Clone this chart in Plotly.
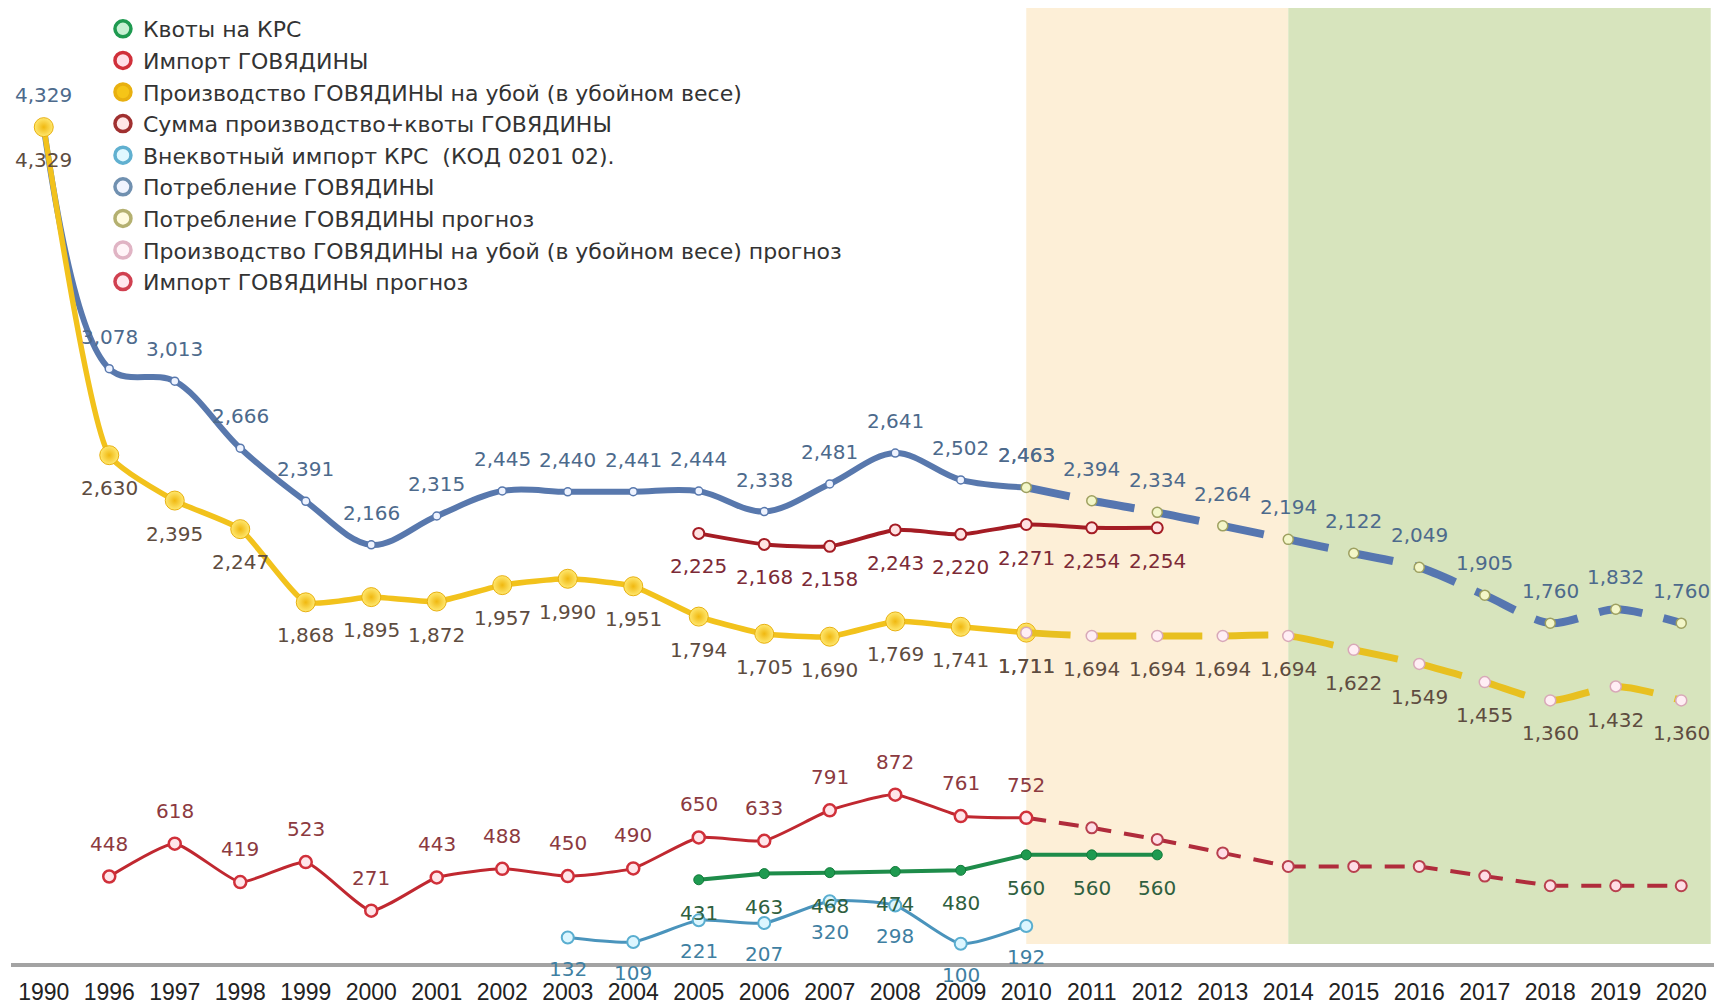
import plotly.graph_objects as go

years = ["1990", "1996", "1997", "1998", "1999", "2000", "2001", "2002", "2003", "2004",
         "2005", "2006", "2007", "2008", "2009", "2010", "2011", "2012", "2013", "2014",
         "2015", "2016", "2017", "2018", "2019", "2020"]

# Квоты на КРС
quota_years = ["2005", "2006", "2007", "2008", "2009", "2010", "2011", "2012"]
quota_vals = [431, 463, 468, 474, 480, 560, 560, 560]

# Импорт ГОВЯДИНЫ
import_years = ["1996", "1997", "1998", "1999", "2000", "2001", "2002", "2003", "2004",
                "2005", "2006", "2007", "2008", "2009", "2010"]
import_vals = [448, 618, 419, 523, 271, 443, 488, 450, 490, 650, 633, 791, 872, 761, 752]

# Производство ГОВЯДИНЫ на убой (в убойном весе)
prod_years = ["1990", "1996", "1997", "1998", "1999", "2000", "2001", "2002", "2003", "2004",
              "2005", "2006", "2007", "2008", "2009", "2010"]
prod_vals = [4329, 2630, 2395, 2247, 1868, 1895, 1872, 1957, 1990, 1951,
             1794, 1705, 1690, 1769, 1741, 1711]

# Сумма производство+квоты ГОВЯДИНЫ
sum_years = ["2005", "2006", "2007", "2008", "2009", "2010", "2011", "2012"]
sum_vals = [2225, 2168, 2158, 2243, 2220, 2271, 2254, 2254]

# Внеквотный импорт КРС (КОД 0201 02)
extra_years = ["2003", "2004", "2005", "2006", "2007", "2008", "2009", "2010"]
extra_vals = [132, 109, 221, 207, 320, 298, 100, 192]

# Потребление ГОВЯДИНЫ
cons_years = prod_years
cons_vals = [4329, 3078, 3013, 2666, 2391, 2166, 2315, 2445, 2440, 2441,
             2444, 2338, 2481, 2641, 2502, 2463]

# Прогнозы
fc_years = ["2010", "2011", "2012", "2013", "2014", "2015", "2016", "2017", "2018", "2019", "2020"]
cons_fc_vals = [2463, 2394, 2334, 2264, 2194, 2122, 2049, 1905, 1760, 1832, 1760]
prod_fc_vals = [1711, 1694, 1694, 1694, 1694, 1622, 1549, 1455, 1360, 1432, 1360]
import_fc_vals = [752, 700, 640, 570, 500, 500, 500, 450, 400, 400, 400]

legend_names = [
    "Квоты на КРС",
    "Импорт ГОВЯДИНЫ",
    "Производство ГОВЯДИНЫ на убой (в убойном весе)",
    "Сумма производство+квоты ГОВЯДИНЫ",
    "Внеквотный импорт КРС  (КОД 0201 02).",
    "Потребление ГОВЯДИНЫ",
    "Потребление ГОВЯДИНЫ прогноз",
    "Производство ГОВЯДИНЫ на убой (в убойном весе) прогноз",
    "Импорт ГОВЯДИНЫ прогноз",
]

Y_MAX = 4946

fig = go.Figure()

# --- data traces (no legend) ---
fig.add_trace(go.Scatter(x=cons_years, y=cons_vals, mode="lines+markers", showlegend=False,
                         line=dict(color="#5878ad", width=6, shape="spline", smoothing=1.0),
                         marker=dict(size=8, color="#eef3ff", line=dict(color="#5878ad", width=1.5))))
fig.add_trace(go.Scatter(x=fc_years, y=cons_fc_vals, mode="lines+markers", showlegend=False,
                         line=dict(color="#5676b0", width=8, dash="44px,22px", shape="spline", smoothing=0.8),
                         marker=dict(size=10, color="#f3f6c8", line=dict(color="#9ea060", width=1.5))))
fig.add_trace(go.Scatter(x=sum_years, y=sum_vals, mode="lines+markers", showlegend=False,
                         line=dict(color="#a41c24", width=4, shape="spline", smoothing=0.6),
                         marker=dict(size=11, color="#ffe2e2", line=dict(color="#a41c24", width=2))))
fig.add_trace(go.Scatter(x=prod_years, y=prod_vals, mode="lines+markers", showlegend=False,
                         line=dict(color="#f2c21c", width=5.5, shape="spline", smoothing=0.5),
                         marker=dict(size=19, color="#ffe870", gradient=dict(type="radial", color="#f0b810"),
                                     line=dict(color="#e8b010", width=1))))
fig.add_trace(go.Scatter(x=fc_years, y=prod_fc_vals, mode="lines+markers", showlegend=False,
                         line=dict(color="#e8c020", width=7, dash="44px,22px", shape="spline", smoothing=0.8),
                         marker=dict(size=11, color="#ffeef4", line=dict(color="#d8a8b8", width=1.5))))
fig.add_trace(go.Scatter(x=fc_years, y=import_fc_vals, mode="lines+markers", showlegend=False,
                         line=dict(color="#b02c3c", width=4, dash="20px,13px"),
                         marker=dict(size=11, color="#ffdde6", line=dict(color="#b8404e", width=2))))
fig.add_trace(go.Scatter(x=import_years, y=import_vals, mode="lines+markers", showlegend=False,
                         line=dict(color="#c02830", width=3, shape="spline", smoothing=0.5),
                         marker=dict(size=12, color="#ffe6ea", line=dict(color="#d0303a", width=2.5))))
fig.add_trace(go.Scatter(x=quota_years, y=quota_vals, mode="lines+markers", showlegend=False,
                         line=dict(color="#1e8c4a", width=4),
                         marker=dict(size=10, color="#1e9a50", line=dict(color="#127a3a", width=1))))
fig.add_trace(go.Scatter(x=extra_years, y=extra_vals, mode="lines+markers", showlegend=False,
                         line=dict(color="#4a94bc", width=3, shape="spline", smoothing=0.6),
                         marker=dict(size=12, color="#dcf6ff", line=dict(color="#5aaed0", width=2))))

# --- legend-only traces ---
legend_styles = [
    ("#c6f0d2", "#1e9a50"),
    ("#ffe0e8", "#d0303a"),
    ("#f5c518", "#e8b010"),
    ("#ffe6e6", "#a03030"),
    ("#e0f8ff", "#60b0d0"),
    ("#f0f4ff", "#7090b0"),
    ("#fffbe0", "#b4b070"),
    ("#fff5f8", "#e0b4c4"),
    ("#ffe8ee", "#d04050"),
]
for name, (fill, edge) in zip(legend_names, legend_styles):
    fig.add_trace(go.Scatter(x=[None], y=[None], mode="markers", name=name, showlegend=True,
                             marker=dict(size=16, color=fill, line=dict(color=edge, width=3.5))))

# --- data labels (category index used for x position) ---
annotations = []
def add_labels(xs, ys, color, shift):
    for x, y in zip(xs, ys):
        annotations.append(dict(x=years.index(x), y=y, xref="x", yref="y", text=f"{y:,}",
                                showarrow=False, yshift=shift,
                                font=dict(family="DejaVu Sans", size=20, color=color)))

add_labels(cons_years, cons_vals, "#4d6a8c", 32)
add_labels(fc_years, cons_fc_vals, "#4d6a8c", 32)
add_labels(prod_years, prod_vals, "#5e4c40", -33)
add_labels(fc_years, prod_fc_vals, "#5e4c40", -33)
add_labels(sum_years, sum_vals, "#7c2a36", -33)
add_labels(import_years, import_vals, "#8c3a40", 33)
add_labels(quota_years, quota_vals, "#2f5f40", -33)
add_labels(extra_years, extra_vals, "#3f7fa2", -31)

# --- background periods ---
shapes = [
    dict(type="rect", xref="x", yref="y", x0=years.index("2010"), x1=years.index("2014"),
         y0=98, y1=Y_MAX, fillcolor="#fdefd7", line=dict(width=0), layer="below"),
    dict(type="rect", xref="x", yref="y", x0=years.index("2014"), x1=25.45,
         y0=98, y1=Y_MAX, fillcolor="#d7e4bd", line=dict(width=0), layer="below"),
]

fig.update_layout(
    width=1723, height=1004,
    margin=dict(l=3, r=17, t=0, b=49),
    paper_bgcolor="white", plot_bgcolor="white",
    shapes=shapes, annotations=annotations,
    font=dict(family="Liberation Sans, Arial", color="#333333"),
    legend=dict(x=0.054, y=1.0, xanchor="left", yanchor="top", bgcolor="rgba(0,0,0,0)",
                font=dict(family="DejaVu Sans", size=22, color="#333333"),
                tracegroupgap=0, itemsizing="trace"),
    xaxis=dict(type="category", categoryorder="array", categoryarray=years, range=[-0.5, 25.5],
               showgrid=False, zeroline=False, showline=True, linecolor="#a3a3a3", linewidth=4,
               ticks="", ticklabelstandoff=5,
               tickfont=dict(family="Liberation Sans, Arial", size=23, color="#222222")),
    yaxis=dict(range=[0, Y_MAX], visible=False, showgrid=False, zeroline=False),
)
for tr in fig.data:
    tr.cliponaxis = False

fig.write_html("out.html")
